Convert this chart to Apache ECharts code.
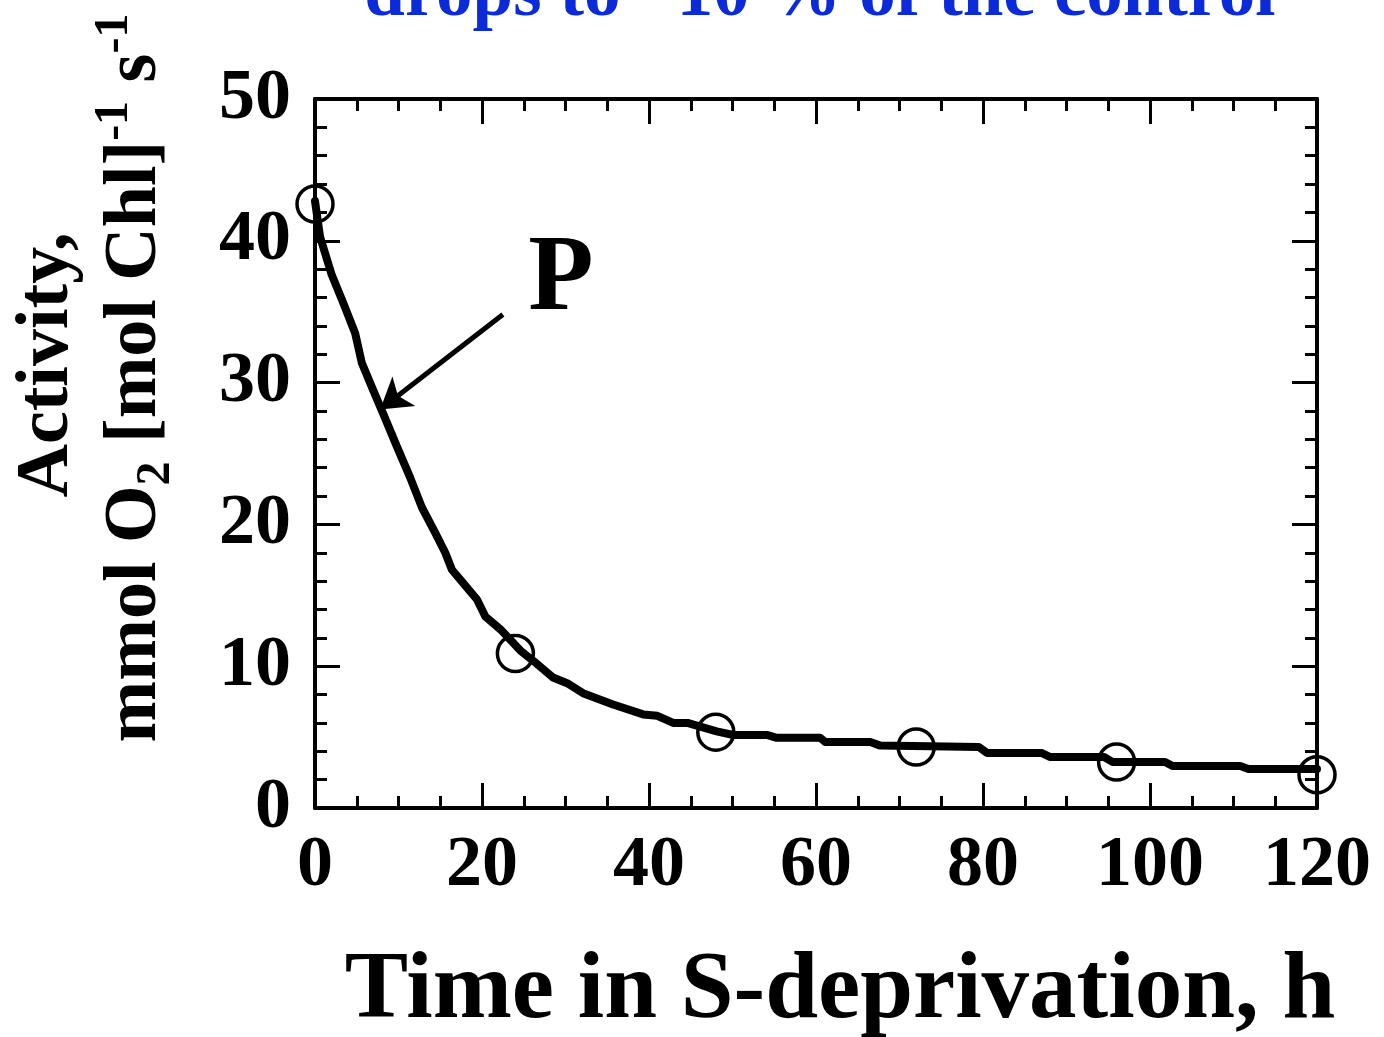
<!DOCTYPE html>
<html>
<head>
<meta charset="utf-8">
<script src="https://cdn.jsdelivr.net/npm/echarts@6/dist/echarts.min.js"></script>
<style>
html,body{margin:0;padding:0;background:#fff;}
#chart{width:1384px;height:1037px;}
</style>
</head>
<body>
<div id="chart"></div>
<script>
// ---- data ----
const xTicks = [0, 20, 40, 60, 80, 100, 120];
const yTicks = [0, 10, 20, 30, 40, 50];
// measured points (open circles): [time h, activity]
const measured = [[0, 42.6], [24, 10.9], [48, 5.35], [72, 4.3], [96, 3.25], [120, 2.35]];
// fitted curve P, as digitised
const curveP = [
  [0, 42.8], [0.6, 40.3], [2.0, 37.6], [3.4, 35.6], [4.8, 33.5], [5.6, 31.4], [6.8, 29.7],
  [8.1, 27.9], [9.8, 25.5], [11.4, 23.3], [12.8, 21.2], [14.4, 19.4], [15.6, 18.0],
  [16.4, 16.8], [17.7, 15.9], [19.4, 14.7], [20.4, 13.5], [22.2, 12.6], [24.6, 11.1],
  [26.1, 10.4], [28.5, 9.2], [30.2, 8.8], [32.1, 8.1], [35.7, 7.3], [39.3, 6.6],
  [41.0, 6.5], [42.9, 6.0], [44.6, 6.0], [48.1, 5.4], [50.1, 5.15], [54.1, 5.15],
  [55.3, 4.95], [60.5, 4.95], [61.1, 4.65], [66.5, 4.65], [67.7, 4.4], [79.5, 4.3],
  [80.5, 3.88], [87.0, 3.88], [88.0, 3.6], [94.5, 3.6], [95.5, 3.25], [101.8, 3.25],
  [102.7, 2.96], [110.8, 2.96], [111.8, 2.75], [120, 2.75]
];
const arrowFrom = [22.5, 34.8];
const arrowTo = [7.8, 28.1];
const curveLabel = 'P';
const titleText = 'drops to ~10 % of the control';
const xTitle = 'Time in S-deprivation, h';

// ---- chart ----
const FONT = '"Liberation Serif", "Times New Roman", serif';
const chart = echarts.init(document.getElementById('chart'));

function axisCommon(showLabel) {
  return {
    axisLine: { show: true, onZero: false, lineStyle: { color: '#000', width: 4 } },
    axisTick: { show: true, inside: true, length: 25, lineStyle: { color: '#000', width: 3 } },
    minorTick: { show: true, length: 12, lineStyle: { color: '#000', width: 3 } },
    splitLine: { show: false },
    axisLabel: {
      show: showLabel, color: '#000', fontFamily: FONT, fontWeight: 'bold', fontSize: 72
    }
  };
}

const xBase = Object.assign(axisCommon(true), { type: 'value', min: xTicks[0], max: xTicks[xTicks.length - 1], interval: 20 });
xBase.minorTick.splitNumber = 4;
xBase.axisLabel.margin = 22;
const xTop = Object.assign(axisCommon(false), { type: 'value', position: 'top', min: xTicks[0], max: xTicks[xTicks.length - 1], interval: 20 });
xTop.minorTick.splitNumber = 4;
const yBase = Object.assign(axisCommon(true), { type: 'value', min: yTicks[0], max: yTicks[yTicks.length - 1], interval: 10 });
yBase.minorTick.splitNumber = 5;
yBase.axisLabel.margin = 24;
const yRight = Object.assign(axisCommon(false), { type: 'value', position: 'right', min: yTicks[0], max: yTicks[yTicks.length - 1], interval: 10 });
yRight.minorTick.splitNumber = 5;

chart.setOption({
  animation: false,
  backgroundColor: '#fff',
  grid: { left: 315, right: 67, top: 99, bottom: 229, containLabel: false },
  xAxis: [xBase, xTop],
  yAxis: [yBase, yRight],
  series: [
    {
      type: 'scatter', data: measured, xAxisIndex: 0, yAxisIndex: 0,
      symbol: 'circle', symbolSize: 36, clip: false, z: 2,
      itemStyle: { color: 'rgba(0,0,0,0)', borderColor: '#000', borderWidth: 3.5, opacity: 1 }
    },
    {
      type: 'line', data: curveP, xAxisIndex: 0, yAxisIndex: 0,
      showSymbol: false, symbol: 'none', clip: false, z: 3,
      lineStyle: { color: '#000', width: 8, join: 'round', cap: 'round' },
      markLine: {
        silent: true, symbol: ['none', 'arrow'], symbolSize: [28, 30],
        label: { show: false },
        lineStyle: { color: '#000', width: 5, type: 'solid' },
        data: [[{ coord: arrowFrom }, { coord: arrowTo }]]
      }
    }
  ],
  graphic: [
    {
      type: 'text', x: 820, y: -4,
      style: { text: titleText, fill: '#0b2bd9', font: 'bold 73px ' + FONT, align: 'center', verticalAlign: 'middle' }
    },
    {
      type: 'text', x: 561, y: 281,
      style: { text: curveLabel, fill: '#000', font: 'bold 107px ' + FONT, align: 'center', verticalAlign: 'middle' }
    },
    {
      type: 'text', x: 840, y: 992,
      style: { text: xTitle, fill: '#000', font: 'bold 95px ' + FONT, align: 'center', verticalAlign: 'middle' }
    },
    {
      type: 'text', x: 48, y: 365, rotation: Math.PI / 2,
      style: { text: 'Activity,', fill: '#000', font: 'bold 74px ' + FONT, align: 'center', verticalAlign: 'middle' }
    },
    {
      type: 'text', x: 136, y: 378, rotation: Math.PI / 2,
      style: {
        text: '{b|mmol O}{sub|2}{b| [mol Chl]}{sup|-1}{b| s}{sup|-1}',
        fill: '#000', align: 'center', verticalAlign: 'middle',
        rich: {
          b: { font: 'bold 74px ' + FONT, fill: '#000', lineHeight: 90, verticalAlign: 'middle' },
          sub: { font: 'bold 48px ' + FONT, fill: '#000', lineHeight: 48, verticalAlign: 'bottom' },
          sup: { font: 'bold 48px ' + FONT, fill: '#000', lineHeight: 48, verticalAlign: 'top' }
        }
      }
    }
  ]
});
</script>
</body>
</html>
